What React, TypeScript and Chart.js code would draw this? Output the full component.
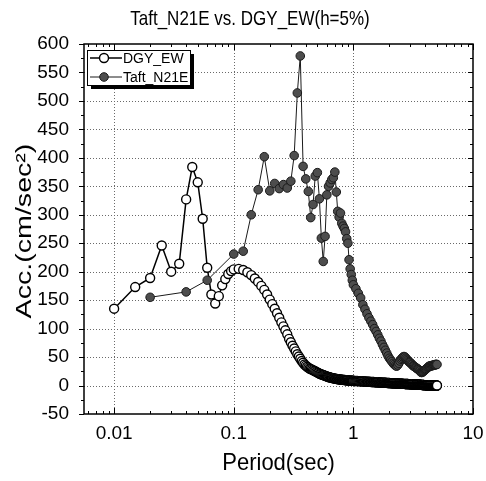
import React, { useEffect, useRef } from 'react';
import { Chart, registerables } from 'chart.js';

Chart.register(...registerables);

// ---------- text ----------
const TITLE = 'Taft_N21E vs. DGY_EW(h=5%)';
const X_TITLE = 'Period(sec)';
const Y_TITLE = 'Acc.(cm/sec²)';
const SERIES_NAMES = ['DGY_EW', 'Taft_N21E'];

// ---------- axes ----------
const X_MIN = 0.0056;
const X_MAX = 10;
const X_LABELS = [0.01, 0.1, 1, 10];
const Y_MIN = -50;
const Y_MAX = 600;
const Y_STEP = 50;

// period sampling grid helper (sampling grid only, not values)
function periodGrid(start: number, end: number, step: number): number[] {
  const n = Math.round((end - start) / step);
  const out: number[] = [];
  for (let i = 0; i <= n; i++) out.push(Number((start + i * step).toFixed(4)));
  return out;
}

// ---------- DGY_EW ----------
const DGY_PERIODS_SHORT = [0.01, 0.015, 0.02, 0.025, 0.03, 0.035, 0.04, 0.045, 0.05, 0.055, 0.06, 0.065, 0.07, 0.075, 0.08, 0.085, 0.09, 0.095, 0.1];
const DGY_VALUES_SHORT = [135, 173, 189, 246, 200, 214, 327, 384, 357, 293, 207, 160, 144, 157, 176, 187, 196, 201, 204];
const DGY_PERIODS_MID = periodGrid(0.11, 1.0, 0.01);
const DGY_VALUES_MID = [
  205, 203, 199, 194, 188, 182, 175, 168, 160, 151,
  143, 135, 127, 119, 111, 104, 97, 90, 82, 76,
  70, 65, 60, 55, 51, 47, 43, 40, 37, 35,
  33, 31.5, 30, 29, 28, 27, 26, 25, 24, 23,
  22, 21, 20.3, 19.6, 19, 18.4, 17.8, 17.2, 16.6, 16,
  15.5, 15, 14.6, 14.2, 13.8, 13.4, 13.1, 12.8, 12.5, 12.2,
  12, 11.7, 11.5, 11.3, 11.1, 10.9, 10.7, 10.5, 10.4, 10.2,
  10.1, 10, 9.9, 9.8, 9.6, 9.5, 9.4, 9.3, 9.2, 9.1,
  9.0, 8.9, 8.8, 8.7, 8.7, 8.6, 8.5, 8.4, 8.4, 8.3,
];
const DGY_PERIODS_LONG = periodGrid(1.02, 5.0, 0.02);
const DGY_VALUES_LONG = [
  8.2, 8.1, 8.0, 7.9, 7.8, 7.7, 7.6, 7.5, 7.4, 7.3,
  7.2, 7.1, 7.0, 6.9, 6.9, 6.8, 6.7, 6.6, 6.5, 6.4,
  6.3, 6.2, 6.2, 6.1, 6.0, 5.9, 5.9, 5.8, 5.7, 5.6,
  5.6, 5.5, 5.4, 5.4, 5.3, 5.2, 5.2, 5.1, 5.0, 5.0,
  4.9, 4.8, 4.8, 4.7, 4.7, 4.6, 4.5, 4.5, 4.4, 4.4,
  4.3, 4.3, 4.2, 4.2, 4.1, 4.1, 4.0, 4.0, 3.9, 3.9,
  3.8, 3.8, 3.7, 3.7, 3.6, 3.6, 3.6, 3.5, 3.5, 3.4,
  3.4, 3.3, 3.3, 3.3, 3.2, 3.2, 3.1, 3.1, 3.1, 3.0,
  3.0, 2.9, 2.9, 2.9, 2.8, 2.8, 2.8, 2.7, 2.7, 2.7,
  2.6, 2.6, 2.6, 2.5, 2.5, 2.5, 2.4, 2.4, 2.4, 2.3,
  2.3, 2.3, 2.2, 2.2, 2.2, 2.1, 2.1, 2.1, 2.0, 2.0,
  2.0, 1.9, 1.9, 1.9, 1.8, 1.8, 1.8, 1.7, 1.7, 1.7,
  1.6, 1.6, 1.6, 1.5, 1.5, 1.5, 1.4, 1.4, 1.4, 1.3,
  1.3, 1.3, 1.2, 1.2, 1.2, 1.1, 1.1, 1.1, 1.0, 1.0,
  1.0, 0.9, 0.9, 0.9, 0.8, 0.8, 0.8, 0.7, 0.7, 0.7,
  0.7, 0.6, 0.6, 0.6, 0.6, 0.5, 0.5, 0.5, 0.5, 0.5,
  0.4, 0.4, 0.4, 0.4, 0.4, 0.4, 0.3, 0.3, 0.3, 0.3,
  0.3, 0.3, 0.3, 0.3, 0.2, 0.2, 0.2, 0.2, 0.2, 0.2,
  0.2, 0.2, 0.2, 0.2, 0.2, 0.1, 0.1, 0.1, 0.1, 0.1,
  0.1, 0.1, 0.1, 0.1, 0.1, 0.1, 0.1, 0.1, 0.1, 0.1,
];

// ---------- Taft_N21E ----------
const TAFT_PERIODS_SHORT = [0.02, 0.04, 0.06];
const TAFT_VALUES_SHORT = [155, 164.5, 185];
const TAFT_PERIODS_MID = periodGrid(0.1, 1.0, 0.02);
const TAFT_VALUES_MID = [
  231, 236, 300, 344, 402, 342, 355, 346, 353, 347,
  359, 404, 514, 579, 385, 363, 341, 295, 318, 368,
  374, 328, 259, 218, 262, 335, 350, 356, 362, 365,
  375, 340, 306, 296, 303, 285, 280, 276, 270, 258,
  250, 221, 205, 195, 185, 177,
];
const TAFT_PERIODS_LONG = periodGrid(1.05, 5.0, 0.05);
const TAFT_VALUES_LONG = [
  170, 162, 154, 142, 134, 126, 119, 113, 107, 100,
  95, 89, 83, 78, 72, 67, 62, 57, 52, 48,
  45, 42, 39, 37, 35, 34, 36, 39, 43, 46,
  48, 50, 51, 50, 48, 46, 44, 42, 41, 40,
  38, 37, 35, 34, 33, 32, 31, 30, 29, 28,
  27, 26, 24, 23, 23, 24, 25, 26, 27, 28,
  29, 30, 31, 32, 33, 34, 34, 34, 35, 35,
  35, 35, 36, 36, 36, 36, 37, 37, 37, 37,
];

function zip(px: number[], vy: number[]) {
  const n = Math.min(px.length, vy.length);
  const out: { x: number; y: number }[] = [];
  for (let i = 0; i < n; i++) out.push({ x: px[i], y: vy[i] });
  return out;
}

const DGY_POINTS = [
  ...zip(DGY_PERIODS_SHORT, DGY_VALUES_SHORT),
  ...zip(DGY_PERIODS_MID, DGY_VALUES_MID),
  ...zip(DGY_PERIODS_LONG, DGY_VALUES_LONG),
];
const TAFT_POINTS = [
  ...zip(TAFT_PERIODS_SHORT, TAFT_VALUES_SHORT),
  ...zip(TAFT_PERIODS_MID, TAFT_VALUES_MID),
  ...zip(TAFT_PERIODS_LONG, TAFT_VALUES_LONG),
];

const FONT = '"Liberation Sans", Arial, Helvetica, sans-serif';
const DGY_STYLE = { line: '#000', lineWidth: 1.5, fill: '#ffffff', stroke: '#000', r: 4.5, bw: 1.4 };
const TAFT_STYLE = { line: '#1a1a1a', lineWidth: 1, fill: '#4d4d4d', stroke: '#1a1a1a', r: 4.3, bw: 1 };

const decorPlugin = {
  id: 'decor',
  beforeDatasetsDraw(chart: any) {
    const { ctx, chartArea: a, scales } = chart;
    const x = scales.x, y = scales.y;
    ctx.save();
    ctx.strokeStyle = '#6a6a6a';
    ctx.lineWidth = 1;
    ctx.setLineDash([1, 2]);
    for (const v of X_LABELS) {
      if (v <= X_MIN || v >= X_MAX) continue;
      const px = Math.round(x.getPixelForValue(v)) + 0.5;
      ctx.beginPath(); ctx.moveTo(px, a.top); ctx.lineTo(px, a.bottom); ctx.stroke();
    }
    for (let v = Y_MIN + Y_STEP; v < Y_MAX; v += Y_STEP) {
      const py = Math.round(y.getPixelForValue(v)) + 0.5;
      ctx.beginPath(); ctx.moveTo(a.left, py); ctx.lineTo(a.right, py); ctx.stroke();
    }
    ctx.restore();
  },
  afterDatasetsDraw(chart: any) {
    const { ctx, chartArea: a, scales } = chart;
    const x = scales.x, y = scales.y;
    ctx.save();
    ctx.strokeStyle = '#000';
    ctx.lineWidth = 1.5;
    ctx.strokeRect(a.left, a.top, a.right - a.left, a.bottom - a.top);
    ctx.lineWidth = 1;
    // x ticks (log)
    for (let e = -3; e <= 1; e++) {
      for (let m = 1; m <= 9; m++) {
        const v = m * Math.pow(10, e);
        if (v < X_MIN || v > X_MAX) continue;
        const len = m === 1 ? 6 : 3;
        const px = Math.round(x.getPixelForValue(v)) + 0.5;
        ctx.beginPath();
        ctx.moveTo(px, a.bottom); ctx.lineTo(px, a.bottom - len);
        ctx.moveTo(px, a.top); ctx.lineTo(px, a.top + len);
        ctx.stroke();
      }
    }
    // y ticks
    for (let v = Y_MIN; v <= Y_MAX; v += Y_STEP / 2) {
      const major = (v - Y_MIN) % Y_STEP === 0;
      const len = major ? 5 : 3;
      const py = Math.round(y.getPixelForValue(v)) + 0.5;
      ctx.beginPath();
      ctx.moveTo(a.left - len, py); ctx.lineTo(a.left, py);
      ctx.moveTo(a.right - len, py); ctx.lineTo(a.right, py);
      ctx.stroke();
    }
    ctx.restore();
  },
  afterDraw(chart: any) {
    const { ctx, chartArea: a } = chart;
    ctx.save();
    ctx.fillStyle = '#000';
    // title (slightly tall, like the scanned original)
    ctx.font = `17px ${FONT}`;
    ctx.textAlign = 'center';
    ctx.textBaseline = 'alphabetic';
    ctx.save();
    ctx.translate(250, 25);
    ctx.scale(1, 1.15);
    ctx.fillText(TITLE, 0, 0);
    ctx.restore();
    // x title
    ctx.font = `22px ${FONT}`;
    ctx.textBaseline = 'middle';
    ctx.save();
    ctx.translate((a.left + a.right) / 2, 463);
    ctx.scale(1, 1.12);
    ctx.fillText(X_TITLE, 0, 0);
    ctx.restore();
    // y title
    ctx.save();
    ctx.translate(25, 231);
    ctx.rotate(-Math.PI / 2);
    ctx.scale(1.3, 1);
    ctx.font = `22px ${FONT}`;
    ctx.fillText(Y_TITLE, 0, 0);
    ctx.restore();

    // legend
    const bx = 87, by = 50, bw = 103, bh = 35;
    ctx.fillStyle = '#000';
    ctx.fillRect(bx + 4, by + 4, bw, bh);
    ctx.fillStyle = '#fff';
    ctx.fillRect(bx, by, bw, bh);
    ctx.strokeStyle = '#000';
    ctx.lineWidth = 1;
    ctx.strokeRect(bx + 0.5, by + 0.5, bw, bh);
    const rows = [
      { name: SERIES_NAMES[0], st: DGY_STYLE, y: 58 },
      { name: SERIES_NAMES[1], st: TAFT_STYLE, y: 77 },
    ];
    for (const r of rows) {
      ctx.strokeStyle = r.st.line;
      ctx.lineWidth = r.st.lineWidth;
      ctx.beginPath(); ctx.moveTo(90, r.y); ctx.lineTo(122, r.y); ctx.stroke();
      ctx.beginPath(); ctx.arc(104, r.y, r.st.r, 0, Math.PI * 2);
      ctx.fillStyle = r.st.fill; ctx.fill();
      ctx.strokeStyle = r.st.stroke; ctx.lineWidth = r.st.bw; ctx.stroke();
      ctx.fillStyle = '#000';
      ctx.font = `14px ${FONT}`;
      ctx.textAlign = 'left';
      ctx.textBaseline = 'middle';
      ctx.fillText(r.name, 123, r.y + 1);
    }
    ctx.restore();
  },
};

function fixPadding(s: any) {
  s.paddingLeft = 0;
  s.paddingRight = 0;
  s.paddingTop = 0;
  s.paddingBottom = 0;
}

export default function App() {
  const canvasRef = useRef<HTMLCanvasElement | null>(null);

  useEffect(() => {
    if (!canvasRef.current) return;
    const chart = new Chart(canvasRef.current, {
      type: 'line',
      data: {
        datasets: [
          {
            label: SERIES_NAMES[0],
            data: DGY_POINTS,
            order: 2,
            borderColor: DGY_STYLE.line,
            borderWidth: DGY_STYLE.lineWidth,
            pointRadius: DGY_STYLE.r,
            pointBackgroundColor: DGY_STYLE.fill,
            pointBorderColor: DGY_STYLE.stroke,
            pointBorderWidth: DGY_STYLE.bw,
            tension: 0,
            fill: false,
          },
          {
            label: SERIES_NAMES[1],
            data: TAFT_POINTS,
            order: 1,
            borderColor: TAFT_STYLE.line,
            borderWidth: TAFT_STYLE.lineWidth,
            pointRadius: TAFT_STYLE.r,
            pointBackgroundColor: TAFT_STYLE.fill,
            pointBorderColor: TAFT_STYLE.stroke,
            pointBorderWidth: TAFT_STYLE.bw,
            tension: 0,
            fill: false,
          },
        ],
      },
      options: {
        responsive: true,
        maintainAspectRatio: false,
        animation: false,
        events: [],
        layout: { padding: { left: 0, right: 13, top: 44, bottom: 0 } },
        plugins: {
          legend: { display: false },
          title: { display: false },
          tooltip: { enabled: false },
        },
        scales: {
          x: {
            type: 'logarithmic',
            min: X_MIN,
            max: X_MAX,
            position: 'bottom',
            grid: { display: false },
            border: { display: false },
            afterBuildTicks: (s: any) => {
              s.ticks = X_LABELS.map((v) => ({ value: v }));
            },
            afterFit: (s: any) => {
              s.height = 67;
              fixPadding(s);
            },
            ticks: {
              autoSkip: false,
              maxRotation: 0,
              padding: 0,
              color: '#000',
              font: { family: FONT, size: 19 },
              callback: (v: any) => String(v),
            },
          },
          y: {
            type: 'linear',
            min: Y_MIN,
            max: Y_MAX,
            grid: { display: false },
            border: { display: false },
            afterFit: (s: any) => {
              s.width = 84;
              fixPadding(s);
            },
            ticks: {
              stepSize: Y_STEP,
              padding: 7,
              color: '#000',
              font: { family: FONT, size: 19 },
            },
          },
        },
      },
      plugins: [decorPlugin],
    });
    return () => chart.destroy();
  }, []);

  return (
    <div style={{ position: 'absolute', left: 0, top: 0, width: 486, height: 481, background: '#fff' }}>
      <canvas ref={canvasRef} />
    </div>
  );
}
